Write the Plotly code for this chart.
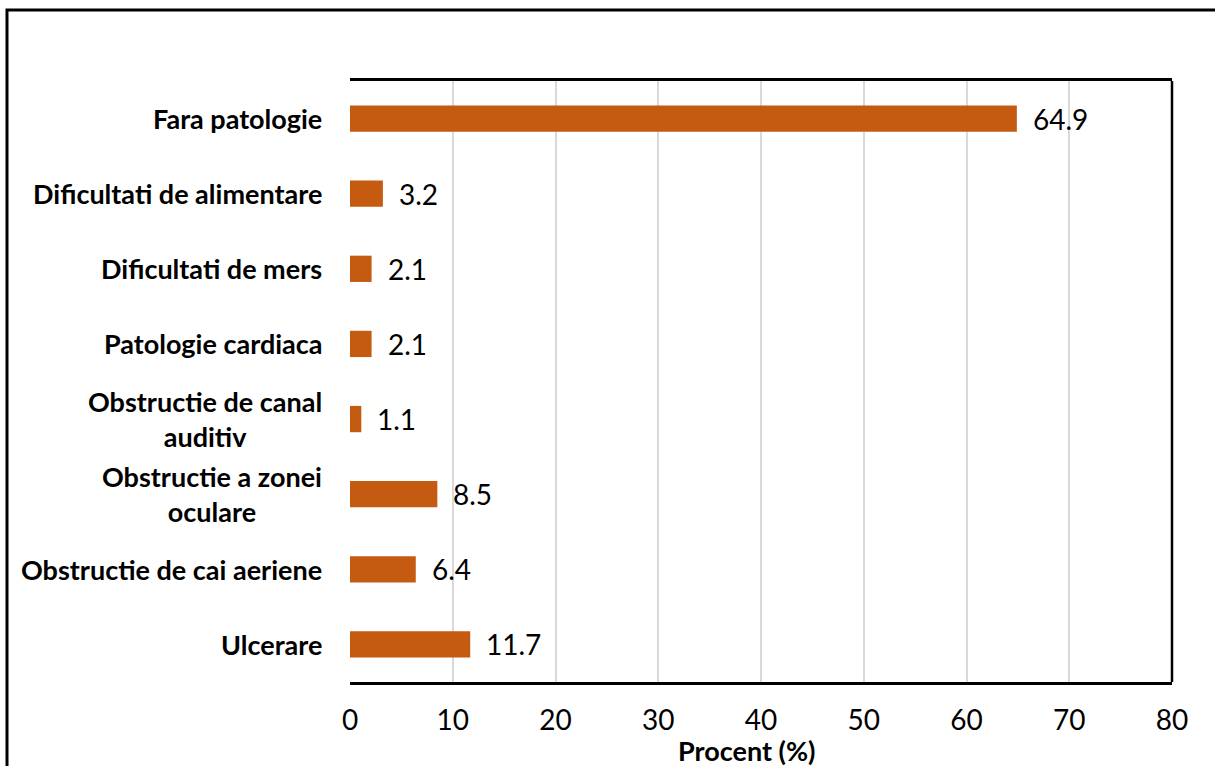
import plotly.graph_objects as go

# Categories listed top to bottom, with their share in percent
categories = [
    "Fara patologie",
    "Dificultati de alimentare",
    "Dificultati de mers",
    "Patologie cardiaca",
    "Obstructie de canal<br>auditiv",
    "Obstructie a zonei<br>oculare",
    "Obstructie de cai aeriene",
    "Ulcerare",
]
values = [64.9, 3.2, 2.1, 2.1, 1.1, 8.5, 6.4, 11.7]
x_ticks = [0, 10, 20, 30, 40, 50, 60, 70, 80]
x_title = "Procent (%)"

BAR = "#C55A11"
FONT = "Lato"

W, H = 1215, 766
L, R, T, B = 350, 43, 81, 84
pw, ph = W - L - R, H - T - B

fig = go.Figure(
    go.Bar(
        x=values,
        y=list(range(len(categories))),
        orientation="h",
        width=0.35,
        marker=dict(color=BAR, line=dict(width=0)),
        hoverinfo="skip",
    )
)

annotations = []
# value labels right of each bar
for i, v in enumerate(values):
    annotations.append(dict(
        x=v, y=i, xref="x", yref="y", text=f"{v:.1f}", showarrow=False,
        xanchor="left", yanchor="middle", xshift=14,
        font=dict(family=FONT, size=28, color="black"),
    ))
# category labels, centred line by line
for i, c in enumerate(categories):
    annotations.append(dict(
        x=0, y=i, xref="paper", yref="y", text=f"<b>{c}</b>", showarrow=False,
        xanchor="right", yanchor="middle", align="center", xshift=-26,
        font=dict(family=FONT, size=27, color="black"),
    ))
# axis title
annotations.append(dict(
    x=(746 - L) / pw, y=(H - B - 751) / ph, xref="paper", yref="paper",
    text=f"<b>{x_title}</b>", showarrow=False, xanchor="center", yanchor="middle",
    borderpad=0,
    font=dict(family=FONT, size=27, color="black"),
))

shapes = [
    # right edge of the plot frame
    dict(type="line", xref="paper", yref="paper", x0=1, x1=1, y0=0, y1=1,
         line=dict(color="black", width=2.5)),
    # outer chart border
    dict(type="rect", xref="paper", yref="paper",
         x0=(7 - L) / pw, x1=(W + 40 - L) / pw,
         y0=(H - B - (H + 40)) / ph, y1=(H - B - 10) / ph,
         line=dict(color="black", width=3), layer="above"),
]

fig.update_layout(
    width=W, height=H,
    margin=dict(l=L, r=R, t=T, b=B, pad=0),
    paper_bgcolor="white", plot_bgcolor="white",
    showlegend=False,
    annotations=annotations,
    shapes=shapes,
    xaxis=dict(
        range=[0, 80], tickvals=x_ticks, ticktext=[str(t) for t in x_ticks],
        showgrid=True, gridcolor="#d9d9d9", gridwidth=1.5,
        zeroline=False,
        showline=True, linecolor="black", linewidth=2.5, mirror=True,
        ticks="", ticklabelstandoff=12,
        tickfont=dict(family=FONT, size=28, color="black"),
    ),
    yaxis=dict(
        range=[len(categories) - 0.5, -0.5],
        showticklabels=False, showgrid=False, zeroline=False,
        showline=False, ticks="",
    ),
)

fig.write_html("out.html")
